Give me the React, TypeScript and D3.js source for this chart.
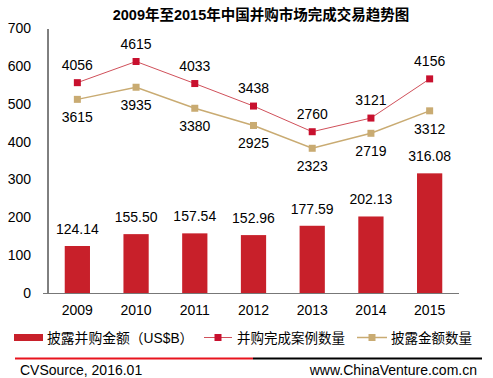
import React from "react";
import * as d3 from "d3";

const years = ["2009", "2010", "2011", "2012", "2013", "2014", "2015"];
const amounts = [124.14, 155.5, 157.54, 152.96, 177.59, 202.13, 316.08];
const dealCounts = [4056, 4615, 4033, 3438, 2760, 3121, 4156];
const disclosedCounts = [3615, 3935, 3380, 2925, 2323, 2719, 3312];
const leftTicks = [0, 100, 200, 300, 400, 500, 600, 700];

const W = 493;
const H = 378;
const FONT = "Arial, 'Liberation Sans', 'Noto Sans CJK SC', sans-serif";

export default function App() {
  const x = d3.scaleBand<string>().domain(years).range([48, 459]).paddingInner(0.57).paddingOuter(0.285);
  const y = d3.scaleLinear().domain([0, 700]).range([293, 28]);
  const y2 = d3.scaleLinear().domain([-1500, 5500]).range([293, 28]);
  const cx = (d: string) => (x(d) as number) + x.bandwidth() / 2;

  const redLine = d3.line<number>().x((_, i) => cx(years[i])).y((v) => y2(v));
  const barColor = "#C8202A";
  const redMarker = "#C8102E";
  const redLineColor = "#D0505A";
  const tan = "#C9AB72";

  return (
    <svg width={W} height={H} style={{ position: "absolute", left: 0, top: 0, background: "#fff" }}>
      <text x={261} y={20} textAnchor="middle" fontFamily={FONT} fontWeight="bold" fontSize={14.5} fill="#000">
        2009年至2015年中国并购市场完成交易趋势图
      </text>
      {leftTicks.map((t) => (
        <text key={t} x={31} y={y(t) + 5} textAnchor="end" fontFamily={FONT} fontSize={14} fill="#000">
          {t}
        </text>
      ))}
      {years.map((yr, i) => (
        <g key={yr}>
          <rect x={x(yr)} y={y(amounts[i])} width={x.bandwidth()} height={y(0) - y(amounts[i])} fill={barColor} />
          <text x={cx(yr)} y={y(amounts[i]) - 12} textAnchor="middle" fontFamily={FONT} fontSize={14} fill="#000">
            {amounts[i].toFixed(2)}
          </text>
          <text x={cx(yr)} y={315} textAnchor="middle" fontFamily={FONT} fontSize={14} fill="#000">
            {yr}
          </text>
        </g>
      ))}
      <line x1={48} x2={48} y1={29} y2={293} stroke="#000" strokeWidth={1} />
      <line x1={43} x2={459} y1={293.5} y2={293.5} stroke="#777" strokeWidth={1} />

      <path d={redLine(dealCounts) || ""} fill="none" stroke={redLineColor} strokeWidth={1} />
      <path d={redLine(disclosedCounts) || ""} fill="none" stroke={tan} strokeWidth={1.5} />
      {years.map((yr, i) => (
        <g key={"m" + yr}>
          <rect x={cx(yr) - 3.5} y={y2(dealCounts[i]) - 3.5} width={7} height={7} fill={redMarker} />
          <rect x={cx(yr) - 3.5} y={y2(disclosedCounts[i]) - 3.5} width={7} height={7} fill={tan} />
          <text x={cx(yr)} y={y2(dealCounts[i]) - 13} textAnchor="middle" fontFamily={FONT} fontSize={14} fill="#000">
            {dealCounts[i]}
          </text>
          <text x={cx(yr)} y={y2(disclosedCounts[i]) + 23} textAnchor="middle" fontFamily={FONT} fontSize={14} fill="#000">
            {disclosedCounts[i]}
          </text>
        </g>
      ))}

      {/* legend */}
      <rect x={14} y={334} width={29} height={7} fill={barColor} />
      <text x={47} y={342.5} fontFamily={FONT} fontSize={13.8} fill="#000">披露并购金额（US$B）</text>
      <line x1={204} x2={232} y1={337.5} y2={337.5} stroke={redLineColor} strokeWidth={1} />
      <rect x={214.5} y={334} width={7} height={7} fill={redMarker} />
      <text x={237} y={342.5} fontFamily={FONT} fontSize={13.5} fill="#000">并购完成案例数量</text>
      <line x1={357} x2={387} y1={337.5} y2={337.5} stroke={tan} strokeWidth={1.5} />
      <rect x={368.5} y={334} width={7} height={7} fill={tan} />
      <text x={391} y={342.5} fontFamily={FONT} fontSize={13.5} fill="#000">披露金额数量</text>

      {/* footer */}
      <line x1={15} x2={253} y1={358.5} y2={358.5} stroke="#E8141E" strokeWidth={2} />
      <line x1={253} x2={482} y1={358.5} y2={358.5} stroke="#000" strokeWidth={2} />
      <text x={20} y={375} fontFamily={FONT} fontSize={14} fill="#000">CVSource, 2016.01</text>
      <text x={477} y={375} textAnchor="end" fontFamily={FONT} fontSize={14} fill="#000">www.ChinaVenture.com.cn</text>
    </svg>
  );
}
